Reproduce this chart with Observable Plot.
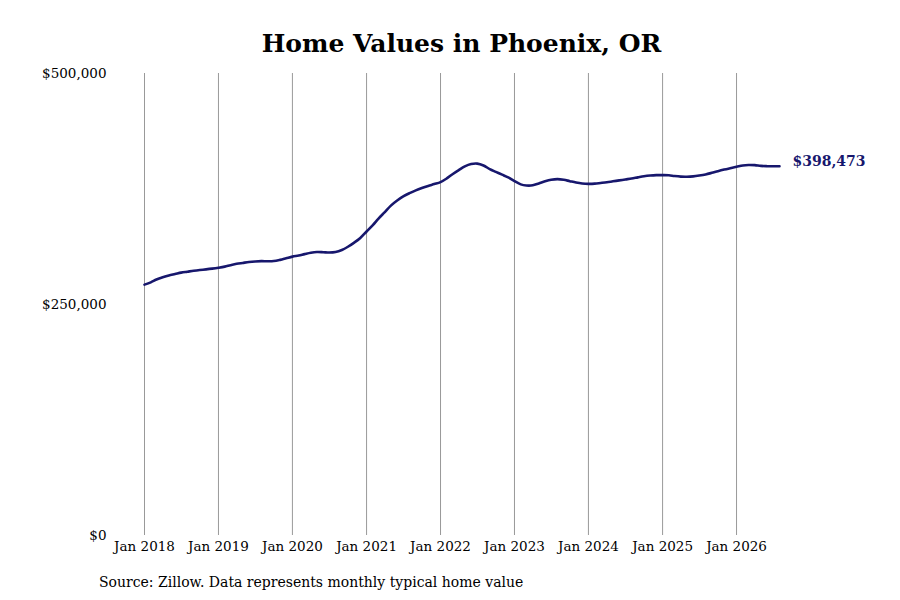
<!DOCTYPE html>
<html>
<head>
<meta charset="utf-8">
<script src="https://cdn.jsdelivr.net/npm/d3@7"></script>
<script src="https://cdn.jsdelivr.net/npm/@observablehq/plot@0.6"></script>
<style>
  html, body { margin: 0; padding: 0; background: #fff; }
  #wrap { position: relative; width: 900px; height: 600px; font-family: "DejaVu Serif", serif; }
  #title { position: absolute; left: 144px; width: 635px; top: 28px; text-align: center; font-weight: bold; font-size: 25px; color: #000; line-height: 32px; }
  #chart { position: absolute; left: 0; top: 60px; }
  #caption { position: absolute; left: 99px; top: 572px; font-size: 14px; color: #000; line-height: 20px; }
</style>
</head>
<body>
<div id="wrap">
  <div id="title">Home Values in Phoenix, OR</div>
  <div id="chart"></div>
  <div id="caption">Source: Zillow. Data represents monthly typical home value</div>
</div>
<script>
const startYear = 2018;
const startMonth = 0; // January
const values = [
  // 2018
  271500, 274000, 277000, 279500, 281500, 283000, 284500, 285500, 286500, 287300, 288000, 288800,
  // 2019
  289800, 291000, 292500, 294000, 295000, 296000, 296600, 296900, 296800, 297000, 298300, 300000,
  // 2020
  301800, 303000, 304500, 306000, 306800, 306600, 306200, 306800, 309000, 312500, 317000, 322000,
  // 2021
  329000, 336000, 343000, 350000, 357000, 362500, 367000, 370500, 373500, 376000, 378300, 380300,
  // 2022
  382500, 386500, 391000, 395500, 399500, 402000, 402500, 400500, 396500, 393500, 390500, 387500,
  // 2023
  383500, 380000, 378800, 379000, 381000, 383300, 385000, 385700, 385000, 383500, 382000, 381000,
  // 2024
  380600, 380800, 381500, 382300, 383300, 384300, 385300, 386300, 387600, 388800, 389600, 390000,
  // 2025
  390000, 389800, 389000, 388400, 388300, 388700, 389600, 390800, 392500, 394300, 396000, 397500,
  // 2026
  399000, 400500, 401000, 400800, 400000, 399700, 399600, 399700
];
const lastLabelValue = 398473;
const yTicks = [0, 250000, 500000];
const xTickYears = [2018, 2019, 2020, 2021, 2022, 2023, 2024, 2025, 2026];
const lineColor = "#17176d";

const data = values.map((v, i) => ({ date: new Date(startYear, startMonth + i, 1), value: v }));
const last = data[data.length - 1];
const xTicks = xTickYears.map(y => new Date(y, 0, 1));
const fmtMoney = d3.format("$,");

const chart = Plot.plot({
  width: 900,
  height: 510,
  marginLeft: 144,
  marginRight: 121,
  marginTop: 13,
  marginBottom: 35,
  style: { fontFamily: "DejaVu Serif, serif", fontSize: "13.5px", color: "#000", background: "#fff" },
  x: { type: "utc", domain: [data[0].date, last.date], label: null },
  y: { domain: [0, 500000], label: null },
  marks: [
    Plot.ruleX(xTicks, { stroke: "#999", strokeWidth: 1 }),
    Plot.axisX({ ticks: xTicks, tickFormat: d => `Jan ${d.getFullYear()}`, tickSize: 0, tickPadding: 6, label: null, fontSize: 13.5 }),
    Plot.axisY({ ticks: yTicks, tickFormat: fmtMoney, tickSize: 0, tickPadding: 38, label: null, fontSize: 13.5 }),
    Plot.line(data, { x: "date", y: "value", stroke: lineColor, strokeWidth: 2.6, curve: "catmull-rom" }),
    Plot.text([last], { x: "date", y: "value", text: () => fmtMoney(lastLabelValue), dx: 13, dy: -5, textAnchor: "start", fill: lineColor, fontWeight: "bold", fontSize: 14 })
  ]
});
document.getElementById("chart").appendChild(chart);
</script>
</body>
</html>
